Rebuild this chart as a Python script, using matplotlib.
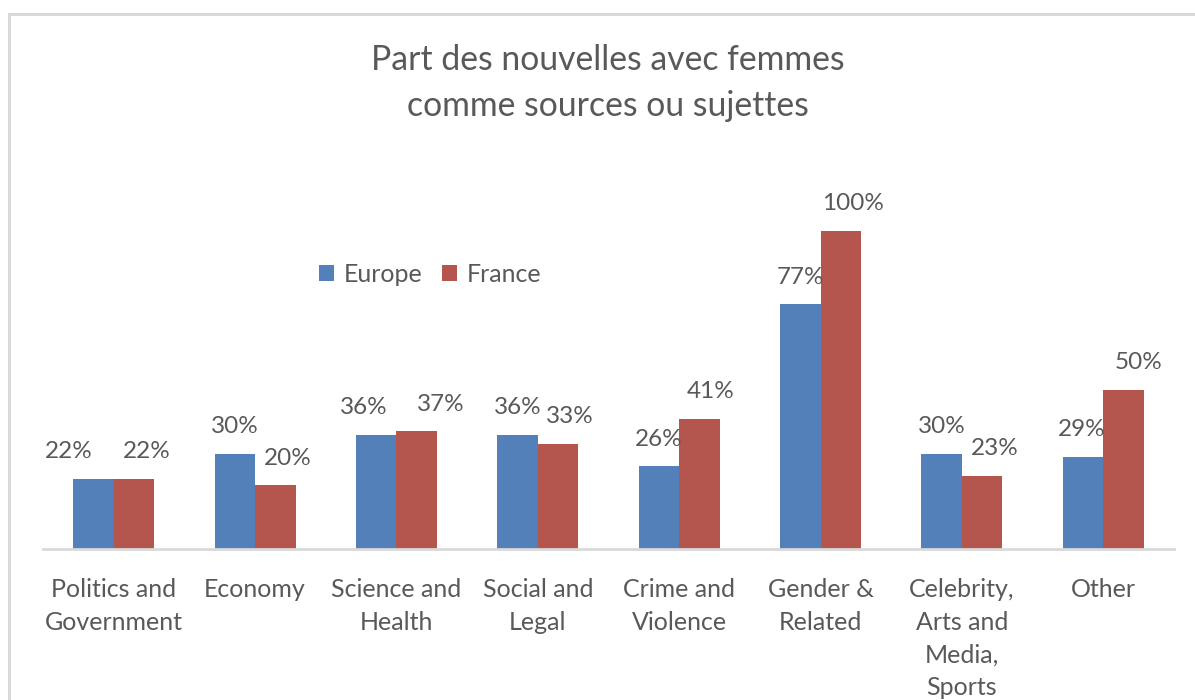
import matplotlib
matplotlib.use("Agg")
import matplotlib.pyplot as plt
from matplotlib.patches import Rectangle
import numpy as np

# ---- data ----
categories = ["Politics and\nGovernment", "Economy", "Science and\nHealth",
              "Social and\nLegal", "Crime and\nViolence", "Gender &\nRelated",
              "Celebrity,\nArts and\nMedia,\nSports", "Other"]
europe = [22, 30, 36, 36, 26, 77, 30, 29]
france = [22, 20, 37, 33, 41, 100, 23, 50]
series_names = ["Europe", "France"]
title = "Part des nouvelles avec femmes\ncomme sources ou sujettes"

# ---- style ----
W, H = 1195, 700
BLUE = "#5480B9"
RED = "#B4554E"
TXT = "#595959"
GRID = "#D9D9D9"
FONT = "Lato"
# label horizontal nudges in px (layout only)
e_dx = [-25, 0, -12, 0, 0, 0, 0, -1]
f_dx = [13, 12, 24, 12, 11, 12, 13, 15]

plt.rcParams["font.family"] = [FONT, "DejaVu Sans"]

fig = plt.figure(figsize=(W / 100, H / 100), dpi=100)
fig.patch.set_facecolor("white")

# outer frame (chart area border)
fig.patches.append(Rectangle((9 / W, -0.1), 1.2, (H - 14) / H + 0.1,
                             transform=fig.transFigure, fill=False,
                             edgecolor=GRID, linewidth=2.2, zorder=0))

left, right = 43, 1174
base = 549
ymax = 120
px_per_pct = 318 / 100
ax_h = ymax * px_per_pct
ax = fig.add_axes([left / W, 1 - base / H, (right - left) / W, ax_h / H])

x = np.arange(len(categories))
bw = 0.2865
b1 = ax.bar(x - bw / 2, europe, bw, color=BLUE, label=series_names[0], zorder=2)
b2 = ax.bar(x + bw / 2, france, bw, color=RED, label=series_names[1], zorder=2)

ax.set_xlim(-0.5, len(categories) - 0.5)
ax.set_ylim(0, ymax)
for s in ["top", "right", "left"]:
    ax.spines[s].set_visible(False)
ax.spines["bottom"].set_color(GRID)
ax.spines["bottom"].set_linewidth(2)
ax.set_yticks([])
ax.set_xticks(x)
ax.set_xticklabels(categories, fontsize=18, color=TXT, linespacing=1.5, va="top")
ax.tick_params(axis="x", length=0, pad=21)

for i, (e, f) in enumerate(zip(europe, france)):
    ax.annotate(f"{e}%", (x[i] - bw / 2, e), xytext=(e_dx[i] * 0.72, 19.5),
                textcoords="offset points", ha="center", va="center",
                fontsize=17.5, color=TXT)
    ax.annotate(f"{f}%", (x[i] + bw / 2, f), xytext=(f_dx[i] * 0.72, 19.5),
                textcoords="offset points", ha="center", va="center",
                fontsize=17.5, color=TXT)

fig.text(608 / W, 1 - 83 / H, title, ha="center", va="center",
         fontsize=24.3, color=TXT, linespacing=1.5)

leg = ax.legend(handles=[b1, b2], loc="center left",
                bbox_to_anchor=(319 / W, 1 - 274 / H),
                bbox_transform=fig.transFigure, ncol=2, frameon=False,
                fontsize=18, handlelength=0.6, handleheight=0.6,
                handletextpad=0.4, columnspacing=0.75, borderaxespad=0,
                borderpad=0)
for t in leg.get_texts():
    t.set_color(TXT)

fig.savefig("out.png", dpi=100)
